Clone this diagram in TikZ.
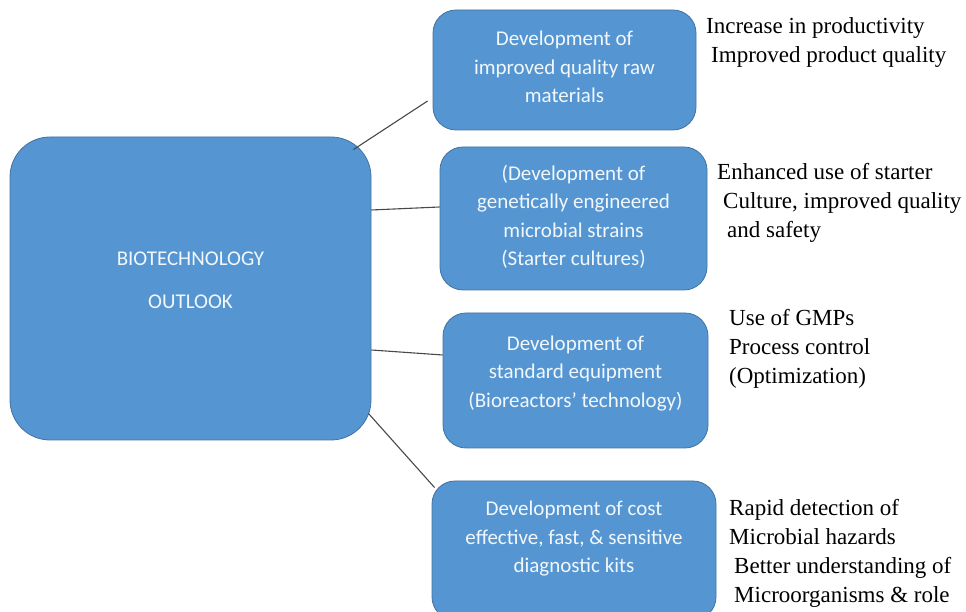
\documentclass[tikz,border=0pt]{standalone}
\usepackage{fontspec}
\setmainfont{Liberation Serif}
\newfontfamily\boxfont{Carlito}
\usetikzlibrary{calc}
\definecolor{boxblue}{RGB}{85,150,210}
\definecolor{boxedge}{RGB}{66,114,160}
\definecolor{linkgray}{RGB}{72,72,72}
\tikzset{
	bluebox/.style={draw=boxedge, line width=0.8pt, fill=boxblue, rounded corners=23pt, inner sep=0pt},
	boxtext/.style={text=white!92!boxblue, font=\boxfont\fontsize{21}{28.5}\selectfont, align=center, inner sep=0pt},
	sidetext/.style={anchor=north west, font=\fontsize{23}{29}\selectfont, align=left, inner sep=0pt},
	link/.style={line width=1.1pt, color=linkgray}
}

\begin{document}
\begin{tikzpicture}[x=1pt, y=1pt]
			%%%%% START %%%%%
			
			\useasboundingbox (0, 0) rectangle (966, 612);
			
			\node[bluebox, rounded corners=40pt, minimum width=361pt, minimum height=303pt] (core) at (190.5, 323.5) {};
			\node[boxtext, font=\boxfont\fontsize{21}{28.5}\selectfont] (coretext) at ([yshift=8pt]core.center) {BIOTECHNOLOGY\\[14.5pt]OUTLOOK};
			
			\node[bluebox, minimum width=263pt, minimum height=120pt] (raw) at (564.5, 542) {};
			\node[boxtext] (rawtext) at ([yshift=3pt]raw.center) {Development of\\improved quality raw\\materials};
			
			\node[bluebox, minimum width=267pt, minimum height=143pt] (strains) at (573.5, 393.5) {};
			\node[boxtext] (strainstext) at ([yshift=1.5pt]strains.center) {(Development of\\genetically engineered\\microbial strains\\(Starter cultures)};
			
			\node[bluebox, minimum width=265pt, minimum height=135pt] (equip) at (575.5, 231.5) {};
			\node[boxtext] (equiptext) at ([yshift=7pt]equip.center) {Development of\\standard equipment\\(Bioreactors’ technology)};
			
			\node[bluebox, minimum width=284pt, minimum height=139pt] (kits) at (574, 61.5) {};
			\node[boxtext] (kitstext) at ([yshift=11.5pt]kits.center) {Development of cost\\effective, fast, \& sensitive\\diagnostic kits};
			
			\draw[link] ([xshift=-18pt, yshift=-13pt]core.north east) -- ([xshift=-5pt, yshift=-31pt]raw.west);
			\draw[link] ([yshift=78.5pt]core.east) -- ([yshift=11.5pt]strains.west);
			\draw[link] ([yshift=-61.5pt]core.east) -- ([yshift=25.5pt]equip.west);
			\draw[link] ([xshift=-3pt, yshift=27pt]core.south east) -- ([xshift=3pt, yshift=-7pt]kits.north west);
			
			\node[sidetext] (gain) at (706, 594.5) {Increase in productivity\\\hspace*{5pt}Improved product quality};
			\node[sidetext] (starter) at (717, 448.5) {Enhanced use of starter\\\hspace*{6pt}Culture, improved quality\\\hspace*{10pt}and safety};
			\node[sidetext] (gmp) at (729, 302.5) {Use of GMPs\\Process control\\(Optimization)};
			\node[sidetext] (hazard) at (729, 112.5) {Rapid detection of\\Microbial hazards\\\hspace*{5pt}Better understanding of\\\hspace*{5pt}Microorganisms \& role};
			
			%%%%% END %%%%%
		\end{tikzpicture}
\end{document}
